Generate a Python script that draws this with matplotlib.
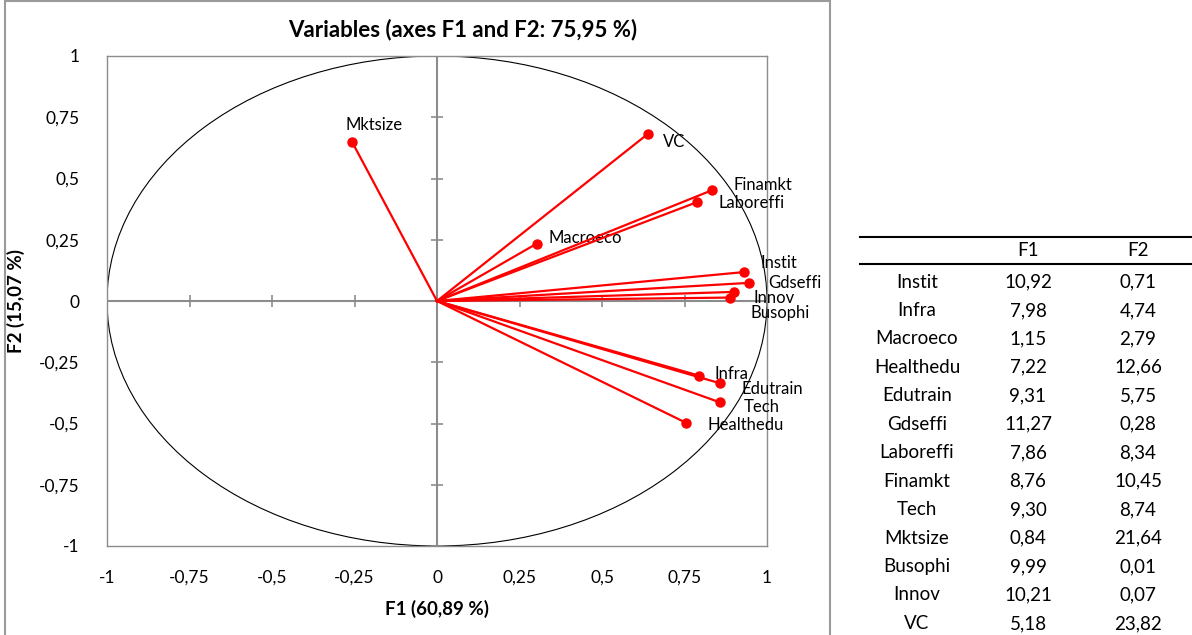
import matplotlib.pyplot as plt
from matplotlib.patches import Circle, Rectangle
from matplotlib.lines import Line2D

plt.rcParams['font.family'] = ['Lato', 'DejaVu Sans']

# coordonnées des variables sur F1 / F2
names = ['Instit', 'Infra', 'Macroeco', 'Healthedu', 'Edutrain', 'Gdseffi', 'Laboreffi',
         'Finamkt', 'Tech', 'Mktsize', 'Busophi', 'Innov', 'VC']
f1 = [0.930, 0.795, 0.302, 0.756, 0.858, 0.945, 0.789, 0.833, 0.858, -0.258, 0.889, 0.899, 0.640]
f2 = [0.118, -0.305, 0.234, -0.498, -0.336, 0.074, 0.404, 0.452, -0.414, 0.651, 0.014, 0.037, 0.683]

# contributions (%)
contrib_f1 = [10.92, 7.98, 1.15, 7.22, 9.31, 11.27, 7.86, 8.76, 9.30, 0.84, 9.99, 10.21, 5.18]
contrib_f2 = [0.71, 4.74, 2.79, 12.66, 5.75, 0.28, 8.34, 10.45, 8.74, 21.64, 0.01, 0.07, 23.82]

ticks = [-1, -0.75, -0.5, -0.25, 0, 0.25, 0.5, 0.75, 1]
tick_labels = ['-1', '-0,75', '-0,5', '-0,25', '0', '0,25', '0,5', '0,75', '1']

# décalage des étiquettes en pixels
offsets = {'Instit': (17, 9), 'Infra': (15, 2), 'Macroeco': (12, 6), 'Healthedu': (21, -2),
           'Edutrain': (21, -6), 'Gdseffi': (19, 0), 'Laboreffi': (21, -1),
           'Finamkt': (22, 5), 'Tech': (24, -5), 'Mktsize': (-6, 17), 'Busophi': (20, -15),
           'Innov': (20, -6), 'VC': (15, -8)}

W, H = 1192, 635
fig = plt.figure(figsize=(W / 100, H / 100), dpi=100)
ax = fig.add_axes([107 / W, 1 - 546 / H, (767 - 107) / W, (546 - 56) / H])

ax.set_xlim(-1, 1)
ax.set_ylim(-1, 1)
for s in ax.spines.values():
    s.set_color('#8c8c8c')
    s.set_linewidth(1)

ax.add_patch(Circle((0, 0), 1, fill=False, color='black', lw=0.8))
ax.axhline(0, color='#8c8c8c', lw=1.5, zorder=1)
ax.axvline(0, color='#8c8c8c', lw=1.5, zorder=1)
ax.plot(ticks, [0] * len(ticks), ls='none', marker='|', ms=8, mew=1.2, color='#8c8c8c')
ax.plot([0] * len(ticks), ticks, ls='none', marker='_', ms=8, mew=1.2, color='#8c8c8c')

for n, x, y in zip(names, f1, f2):
    ax.plot([0, x], [0, y], color='red', lw=1.6, zorder=3)
    ax.plot(x, y, 'o', color='red', ms=6.5, zorder=4)
    ax.annotate(n, (x, y), xytext=offsets[n], textcoords='offset pixels',
                fontsize=12, ha='left', va='center')

ax.set_xticks(ticks)
ax.set_xticklabels(tick_labels, fontsize=12.5)
ax.set_yticks(ticks)
ax.set_yticklabels(tick_labels, fontsize=12.5)
ax.tick_params(length=0, pad=17)
ax.tick_params(axis='y', pad=20)
ax.set_xlabel('F1 (60,89 %)', fontsize=13.5, fontweight='bold', labelpad=10)
ax.set_ylabel('F2 (15,07 %)', fontsize=13.5, fontweight='bold', labelpad=10)
ax.set_title('Variables (axes F1 and F2: 75,95 %)', fontsize=16, fontweight='bold', pad=14,
             x=(463 - 107) / (767 - 107))

# cadre du graphique
fig.patches.append(Rectangle((5 / W, -0.01), (830 - 5) / W, 1.01 - 1 / H, transform=fig.transFigure,
                             fill=False, edgecolor='#9a9a9a', lw=1.5))

# tableau des contributions
x0, x1 = 860 / W, 1.0
cx = [917 / W, 1028 / W, 1138 / W]
fs = 13.5
fig.add_artist(Line2D([x0, x1], [1 - 237 / H] * 2, color='black', lw=1.5))
fig.add_artist(Line2D([x0, x1], [1 - 264 / H] * 2, color='black', lw=1.5))
fig.text(cx[1], 1 - 251 / H, 'F1', ha='center', va='center', fontsize=fs)
fig.text(cx[2], 1 - 251 / H, 'F2', ha='center', va='center', fontsize=fs)
for i, n in enumerate(names):
    yy = 1 - (282 + i * 28.45) / H
    fig.text(cx[0], yy, n, ha='center', va='center', fontsize=fs)
    fig.text(cx[1], yy, f'{contrib_f1[i]:.2f}'.replace('.', ','), ha='center', va='center', fontsize=fs)
    fig.text(cx[2], yy, f'{contrib_f2[i]:.2f}'.replace('.', ','), ha='center', va='center', fontsize=fs)

fig.savefig('out.png', dpi=100)
